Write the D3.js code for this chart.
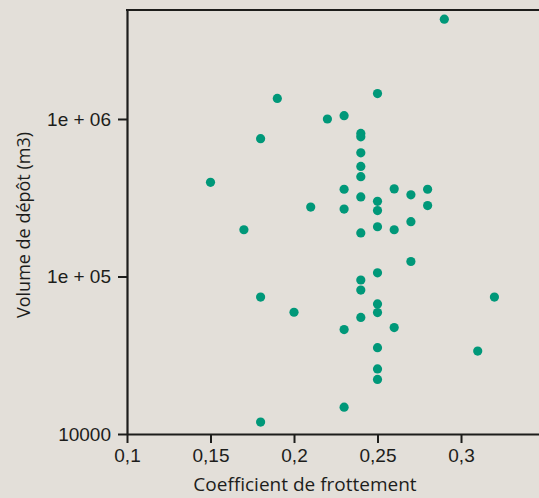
<!DOCTYPE html>
<html>
<head>
<meta charset="utf-8">
<script src="https://cdn.jsdelivr.net/npm/d3@7"></script>
<style>
  html, body { margin: 0; padding: 0; background: #e3dfd9; }
  svg { display: block; }
</style>
</head>
<body>
<div id="chart"></div>
<script>
// friction coefficient vs deposit volume
const frottement = [
    0.29, 0.19, 0.25, 0.22, 0.23, 0.24, 0.24, 0.24, 0.24, 0.24, 0.23,
    0.24, 0.26, 0.27, 0.28, 0.21, 0.23, 0.25, 0.25, 0.28, 0.27, 0.25,
    0.26, 0.24, 0.18, 0.15, 0.17, 0.18, 0.18, 0.27, 0.25, 0.24, 0.24,
    0.32, 0.20, 0.25, 0.25, 0.24, 0.23, 0.26, 0.25, 0.31, 0.25, 0.25,
    0.23
];
const volume = [
    4.3e6, 1.35e6, 1.45e6, 1.0e6, 1.05e6, 8.1e5, 7.7e5, 6.1e5, 5.0e5, 4.3e5, 3.58e5,
    3.2e5, 3.6e5, 3.3e5, 3.58e5, 2.76e5, 2.68e5, 3.0e5, 2.62e5, 2.82e5, 2.23e5, 2.07e5,
    1.98e5, 1.89e5, 7.5e5, 3.96e5, 1.98e5, 7.4e4, 1.19e4, 1.245e5, 1.055e5, 9.5e4, 8.2e4,
    7.4e4, 5.93e4, 6.7e4, 5.9e4, 5.5e4, 4.6e4, 4.74e4, 3.53e4, 3.36e4, 2.59e4, 2.22e4,
    1.48e4
];
const xTicks = [0.1, 0.15, 0.2, 0.25, 0.3];
const xTickLabels = ["0,1", "0,15", "0,2", "0,25", "0,3"];
const yTicks = [1e4, 1e5, 1e6];
const yTickLabels = ["10000", "1e + 05", "1e + 06"];

const width = 539, height = 498;
const margin = {top: 10, right: 0, bottom: 64, left: 127};

const svg = d3.select("#chart").append("svg")
    .attr("width", width)
    .attr("height", height)
    .style("font-family", "'Open Sans', 'Noto Sans', sans-serif");

const x = d3.scaleLinear()
    .domain([0.1, 0.3467])
    .range([margin.left, width - margin.right]);

const y = d3.scaleLog()
    .domain([1e4, 4.92e6])
    .range([height - margin.bottom, margin.top]);

const ink = "#1d1d1b";

// x axis
const xAxis = svg.append("g")
    .attr("transform", `translate(0,${height - margin.bottom})`)
    .call(d3.axisBottom(x)
        .tickValues(xTicks)
        .tickFormat((d, i) => xTickLabels[i])
        .tickSize(9)
        .tickPadding(6)
        .tickSizeOuter(0));

// y axis
const yAxis = svg.append("g")
    .attr("transform", `translate(${margin.left},0)`)
    .call(d3.axisLeft(y)
        .tickValues(yTicks)
        .tickFormat((d, i) => yTickLabels[i])
        .tickSize(9)
        .tickPadding(7)
        .tickSizeOuter(0));

[xAxis, yAxis].forEach(a => {
    a.select(".domain").attr("stroke", ink).attr("stroke-width", 2.2);
    a.selectAll(".tick line").attr("stroke", ink).attr("stroke-width", 2);
    a.selectAll(".tick text")
        .attr("fill", ink)
        .style("font-size", "19px");
});

// top border
svg.append("line")
    .attr("x1", margin.left - 1).attr("x2", width)
    .attr("y1", margin.top).attr("y2", margin.top)
    .attr("stroke", ink)
    .attr("stroke-width", 2.2);

// points
svg.append("g")
    .selectAll("circle")
    .data(d3.range(frottement.length))
    .join("circle")
        .attr("cx", i => x(frottement[i]))
        .attr("cy", i => y(volume[i]))
        .attr("r", 4.6)
        .attr("fill", "#009879");

// axis titles
svg.append("text")
    .attr("x", 305)
    .attr("y", 491)
    .attr("text-anchor", "middle")
    .attr("fill", ink)
    .style("font-size", "19px")
    .text("Coefficient de frottement");

svg.append("text")
    .attr("transform", `translate(30,${(margin.top + height - margin.bottom) / 2 + 3}) rotate(-90)`)
    .attr("text-anchor", "middle")
    .attr("fill", ink)
    .style("font-size", "18px")
    .text("Volume de dépôt (m3)");
</script>
</body>
</html>
